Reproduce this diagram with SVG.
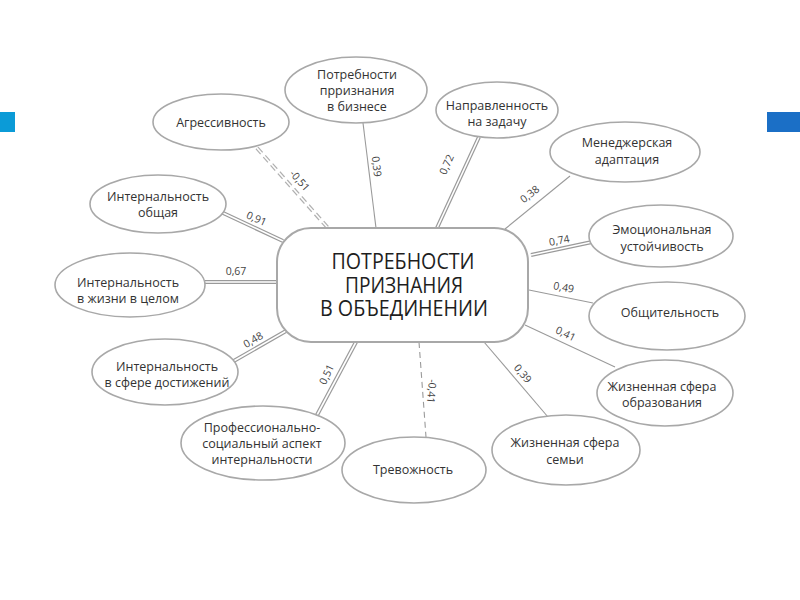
<svg xmlns="http://www.w3.org/2000/svg" width="800" height="600" viewBox="0 0 800 600">
<style>
.bg{fill:#ffffff}
.ell{fill:#ffffff;stroke:#a8a8a8;stroke-width:1.6}
.ctr{fill:#ffffff;stroke:#a8a8a8;stroke-width:2}
.t{font-family:"Open Sans","DejaVu Sans",sans-serif;font-size:12.5px;fill:#333;text-anchor:middle}
.tc{font-family:"Open Sans","DejaVu Sans",sans-serif;font-size:21.5px;fill:#1e1e1e;text-anchor:middle}
.lbl{font-family:"Open Sans","DejaVu Sans",sans-serif;font-size:10.5px;fill:#444;text-anchor:middle}
.s{stroke:#9a9a9a;stroke-width:1.1;fill:none}
.dO{stroke:#9a9a9a;stroke-width:4;fill:none}
.dI{stroke:#ffffff;stroke-width:1.6;fill:none}
.sd{stroke:#9a9a9a;stroke-width:1.1;fill:none;stroke-dasharray:6 4}
.ddO{stroke:#b0b0b0;stroke-width:4;fill:none;stroke-dasharray:7 4}
.ddI{stroke:#ffffff;stroke-width:1.6;fill:none}
</style>
<rect class="bg" x="0" y="0" width="800" height="600"/>
<rect x="0" y="112" width="15" height="20" fill="#0b9bd7"/>
<rect x="767" y="112" width="33" height="20" fill="#1b6fc6"/>

<g id="connectors">
  <line class="ddO" x1="257" y1="148" x2="328" y2="228"/>
  <line class="ddI" x1="257" y1="148" x2="328" y2="228"/>
  <text class="lbl" transform="translate(297,183) rotate(48)">-0,51</text>
  <line class="s" x1="363" y1="123" x2="376" y2="228"/>
  <text class="lbl" transform="translate(373,167) rotate(83)">0,39</text>
  <line class="dO" x1="479" y1="137" x2="437" y2="228"/>
  <line class="dI" x1="479" y1="137" x2="437" y2="228"/>
  <text class="lbl" transform="translate(450,166) rotate(-66)">0,72</text>
  <line class="s" x1="570" y1="176" x2="505" y2="229"/>
  <text class="lbl" transform="translate(532,197) rotate(-38)">0,38</text>
  <line class="dO" x1="592" y1="242" x2="531" y2="255"/>
  <line class="dI" x1="592" y1="242" x2="531" y2="255"/>
  <text class="lbl" transform="translate(560,244) rotate(-11)">0,74</text>
  <line class="s" x1="529" y1="290" x2="593" y2="303"/>
  <text class="lbl" transform="translate(563,291) rotate(11)">0,49</text>
  <line class="s" x1="525" y1="325" x2="615" y2="367"/>
  <text class="lbl" transform="translate(564,337) rotate(26)">0,41</text>
  <line class="s" x1="484" y1="342" x2="548" y2="417"/>
  <text class="lbl" transform="translate(520,376) rotate(50)">0,39</text>
  <line class="sd" x1="419" y1="342" x2="426" y2="437"/>
  <text class="lbl" transform="translate(428,391) rotate(95)">-0,41</text>
  <line class="dO" x1="356" y1="342" x2="317" y2="415"/>
  <line class="dI" x1="356" y1="342" x2="317" y2="415"/>
  <text class="lbl" transform="translate(330,376) rotate(-65)">0,51</text>
  <line class="dO" x1="286" y1="331" x2="232" y2="362"/>
  <line class="dI" x1="286" y1="331" x2="232" y2="362"/>
  <text class="lbl" transform="translate(255,343) rotate(-30)">0,48</text>
  <line class="dO" x1="205" y1="282" x2="278" y2="282"/>
  <line class="dI" x1="205" y1="282" x2="278" y2="282"/>
  <text class="lbl" x="236" y="275">0,67</text>
  <line class="dO" x1="221" y1="212" x2="283" y2="241"/>
  <line class="dI" x1="221" y1="212" x2="283" y2="241"/>
  <text class="lbl" transform="translate(255,222) rotate(24)">0,91</text>
</g>

<g id="center">
  <rect class="ctr" x="277" y="228" width="251" height="114" rx="34" ry="34"/>
  <text class="tc" x="403" y="269" textLength="143" lengthAdjust="spacingAndGlyphs">ПОТРЕБНОСТИ</text>
  <text class="tc" x="404" y="293" textLength="118" lengthAdjust="spacingAndGlyphs">ПРИЗНАНИЯ</text>
  <text class="tc" x="404" y="316" textLength="168" lengthAdjust="spacingAndGlyphs">В ОБЪЕДИНЕНИИ</text>
</g>

<g id="n-business">
  <ellipse class="ell" cx="356" cy="90" rx="71" ry="33"/>
  <text class="t" x="357" y="79">Потребности</text>
  <text class="t" x="357" y="95">прризнания</text>
  <text class="t" x="357" y="111">в бизнесе</text>
</g>
<g id="n-aggr">
  <ellipse class="ell" cx="221" cy="122" rx="68" ry="28"/>
  <text class="t" x="221" y="127">Агрессивность</text>
</g>
<g id="n-task">
  <ellipse class="ell" cx="497" cy="110" rx="61" ry="28"/>
  <text class="t" x="497" y="110">Направленность</text>
  <text class="t" x="497" y="126">на задачу</text>
</g>
<g id="n-manager">
  <ellipse class="ell" cx="625" cy="152" rx="75" ry="30"/>
  <text class="t" x="627" y="147">Менеджерская</text>
  <text class="t" x="627" y="164">адаптация</text>
</g>
<g id="n-emo">
  <ellipse class="ell" cx="661" cy="236" rx="72" ry="31"/>
  <text class="t" x="662" y="234">Эмоциональная</text>
  <text class="t" x="662" y="251">устойчивость</text>
</g>
<g id="n-social">
  <ellipse class="ell" cx="667" cy="316" rx="78" ry="34"/>
  <text class="t" x="670" y="317">Общительность</text>
</g>
<g id="n-edu">
  <ellipse class="ell" cx="665" cy="393" rx="68" ry="33"/>
  <text class="t" x="662" y="391">Жизненная сфера</text>
  <text class="t" x="662" y="407">образования</text>
</g>
<g id="n-family">
  <ellipse class="ell" cx="566" cy="450" rx="74" ry="35"/>
  <text class="t" x="565" y="447">Жизненная сфера</text>
  <text class="t" x="565" y="464">семьи</text>
</g>
<g id="n-anxiety">
  <ellipse class="ell" cx="414" cy="470" rx="72" ry="33"/>
  <text class="t" x="413" y="474">Тревожность</text>
</g>
<g id="n-prof">
  <ellipse class="ell" cx="263" cy="443" rx="82" ry="37"/>
  <text class="t" x="262" y="432">Профессионально-</text>
  <text class="t" x="262" y="448">социальный аспект</text>
  <text class="t" x="262" y="464">интернальности</text>
</g>
<g id="n-achieve">
  <ellipse class="ell" cx="165" cy="372" rx="73" ry="33"/>
  <text class="t" x="167" y="371">Интернальность</text>
  <text class="t" x="167" y="387">в сфере достижений</text>
</g>
<g id="n-life">
  <ellipse class="ell" cx="130" cy="285" rx="75" ry="32"/>
  <text class="t" x="128" y="287">Интернальность</text>
  <text class="t" x="128" y="303">в жизни в целом</text>
</g>
<g id="n-general">
  <ellipse class="ell" cx="158" cy="204" rx="68" ry="29"/>
  <text class="t" x="158" y="201">Интернальность</text>
  <text class="t" x="158" y="217">общая</text>
</g>
</svg>
